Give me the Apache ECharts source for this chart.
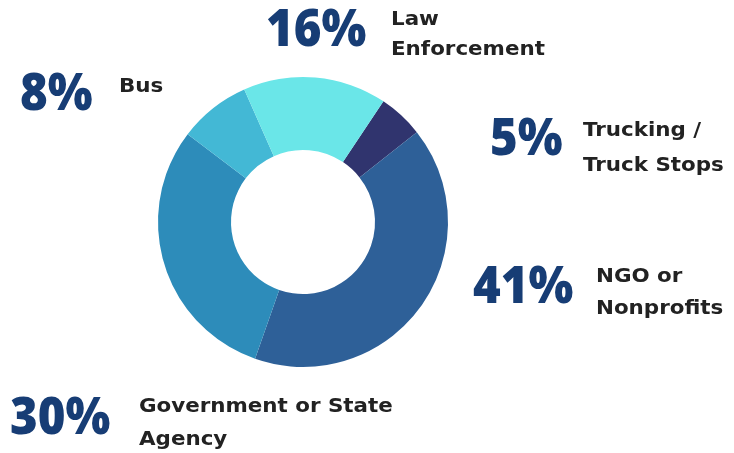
<!DOCTYPE html>
<html>
<head>
<meta charset="utf-8">
<script src="https://cdn.jsdelivr.net/npm/echarts@6/dist/echarts.min.js"></script>
<style>html,body{margin:0;padding:0;background:#fff}#c{width:734px;height:453px}</style>
</head>
<body>
<div id="c"></div>
<script>
// Data (clockwise from the navy slice)
var categories = ['Trucking /\nTruck Stops', 'NGO or\nNonprofits', 'Government or State\nAgency', 'Bus', 'Law\nEnforcement'];
var values = [5, 41, 30, 8, 16];

// Styling / layout (not data)
var colors = ['#30346e', '#2e6098', '#2d8cba', '#43b8d5', '#6ae6e8'];
var pctPos = [[490, 140], [473, 288], [10, 419], [20, 95], [266, 31]];
var namePos = [[583, 131, 35], [596, 277, 32], [139, 407, 33], [119, 87, 32], [391, 20, 30]];

var chart = echarts.init(document.getElementById('c'), null, {renderer: 'canvas'});
var graphics = [];
values.forEach(function (v, i) {
  graphics.push({
    type: 'text',
    x: pctPos[i][0], y: pctPos[i][1],
    scaleX: 0.91,
    style: {
      text: v + '%', x: 0, y: 0,
      fill: '#173d75', font: '800 52px "Open Sans"',
      align: 'left', verticalAlign: 'middle'
    }
  });
  var lines = categories[i].split('\n');
  lines.forEach(function (ln, j) {
    graphics.push({
      type: 'text',
      x: namePos[i][0], y: namePos[i][1] + j * namePos[i][2],
      scaleX: 1.07,
      style: {
        text: ln, x: 0, y: 0,
        fill: '#222222', font: 'bold 20px "DejaVu Sans"',
        align: 'left', verticalAlign: 'middle'
      }
    });
  });
});

chart.setOption({
  animation: false,
  color: colors,
  series: [{
    type: 'pie',
    center: [303, 222],
    radius: [72, 145],
    startAngle: 56.3,
    clockwise: true,
    label: {show: false},
    labelLine: {show: false},
    data: values.map(function (v, i) { return {name: categories[i], value: v}; })
  }],
  graphic: graphics
});
</script>
</body>
</html>
